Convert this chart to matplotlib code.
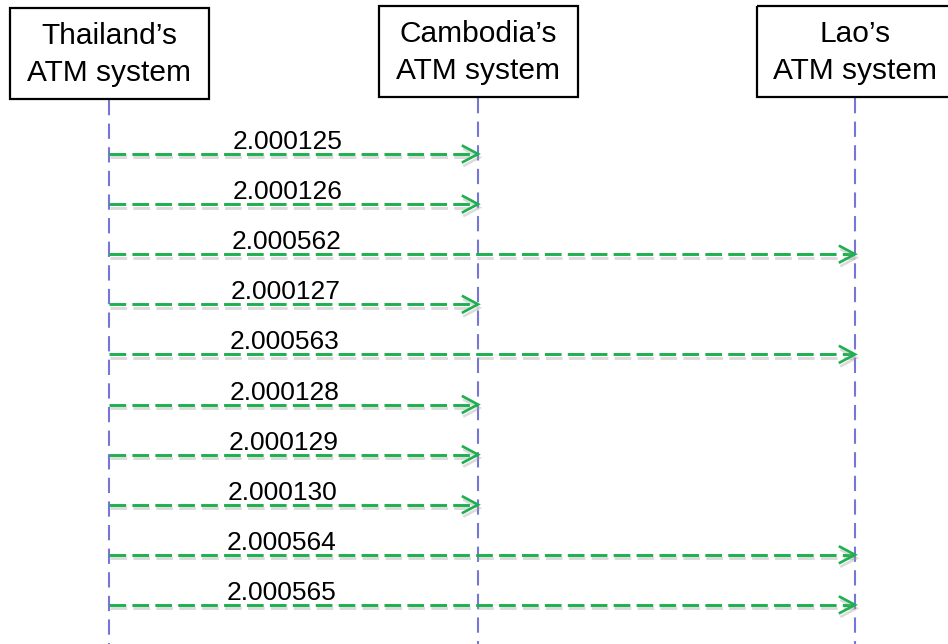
import matplotlib
matplotlib.use("Agg")
import matplotlib.pyplot as plt
import matplotlib.patheffects as pe
from matplotlib.patches import Rectangle

plt.rcParams['font.family'] = ['Liberation Sans', 'DejaVu Sans']
plt.rcParams['lines.scale_dashes'] = False

# participants of the sequence diagram
participants = ["Thailand\u2019s\nATM system", "Cambodia\u2019s\nATM system", "Lao\u2019s\nATM system"]

# messages, in order, all sent from Thailand's system
msg_labels = ["2.000125", "2.000126", "2.000562", "2.000127", "2.000563",
              "2.000128", "2.000129", "2.000130", "2.000564", "2.000565"]
msg_target = [1, 1, 2, 1, 2, 1, 1, 1, 2, 2]
msg_source = 0

# layout (pixel units, y grows downwards)
W, H = 948, 644
life_x = [109, 478, 855]
box_left = [10, 379, 757]
box_top = [8, 6, 6]
box_w, box_h = 199, 91
first_y, step_y = 154, 50.1

fig = plt.figure(figsize=(W / 100, H / 100), dpi=100)
ax = fig.add_axes([0, 0, 1, 1])
ax.set_xlim(0, W)
ax.set_ylim(H, 0)
ax.axis('off')

life_color = '#7676d6'
msg_color = '#1db04e'

# participant boxes and lifelines
for i, name in enumerate(participants):
    ax.add_patch(Rectangle((box_left[i], box_top[i]), box_w, box_h,
                           fill=False, edgecolor='black', linewidth=1.6, zorder=3))
    ax.text(life_x[i], box_top[i] + box_h / 2 + 1, name, ha='center', va='center',
            fontsize=21.5, linespacing=1.42, zorder=4)
    ax.plot([life_x[i], life_x[i]], [box_top[i] + box_h + 1, H], color=life_color,
            linewidth=1.5, linestyle=(0, (11, 6)), zorder=1)

shadow = [pe.SimpleLineShadow(offset=(1, -2.5), shadow_color='#999999', alpha=0.35),
          pe.Normal()]

head_len, head_half = 15, 8
for i, (lab, tgt) in enumerate(zip(msg_labels, msg_target)):
    y = first_y + i * step_y
    x0 = life_x[msg_source]
    x1 = life_x[tgt]
    ax.plot([x0, x1 - 1], [y, y], color=msg_color, linewidth=2.1,
            linestyle=(0, (12, 4.5)), path_effects=shadow, zorder=2)
    ax.plot([x1 - head_len, x1, x1 - head_len], [y - head_half, y, y + head_half],
            color=msg_color, linewidth=1.9, solid_joinstyle='miter',
            path_effects=shadow, zorder=2)
    ax.text(233 - 0.75 * i, y - 5, lab, ha='left', va='baseline',
            fontsize=19, zorder=4)

fig.savefig('out.png', dpi=100, facecolor='white')
